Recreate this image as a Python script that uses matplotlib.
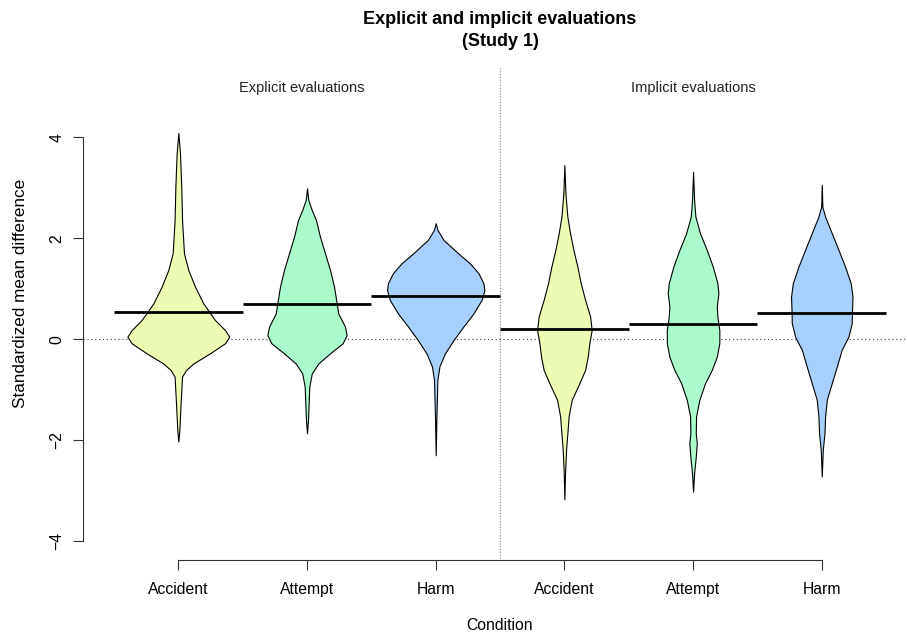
import matplotlib
matplotlib.use('Agg')
import matplotlib.pyplot as plt

plt.rcParams['font.family'] = ['Liberation Sans', 'DejaVu Sans']

conditions = ['Accident', 'Attempt', 'Harm', 'Accident', 'Attempt', 'Harm']
groups = ['Explicit evaluations', 'Implicit evaluations']
colors = ['#ECFCB2', '#ABFACB', '#A7D0FC', '#ECFCB2', '#ABFACB', '#A7D0FC']

# bean means (thick horizontal lines)
means = [0.54, 0.69, 0.854, 0.196, 0.30, 0.525]

# density profiles: value levels and bean half-widths
exp_acc_y = [4.09, 3.68, 3.02, 2.36, 1.70, 1.37, 1.04, 0.71, 0.38, 0.18, 0.05,
             -0.08, -0.28, -0.48, -0.61, -0.74, -1.27, -1.80, -2.03]
exp_acc_w = [0, .013, .023, .029, .044, .078, .130, .194, .285, .363, .396,
             .363, .246, .117, .060, .029, .018, .008, 0]

exp_att_y = [2.99, 2.76, 2.56, 2.36, 2.03, 1.70, 1.37, 1.04, 0.71, 0.51, 0.25,
             0.08, -0.08, -0.28, -0.48, -0.68, -0.94, -1.60, -1.86]
exp_att_w = [0, .010, .037, .070, .101, .140, .179, .210, .231, .243, .295,
             .308, .277, .179, .088, .037, .018, .008, 0]

exp_harm_y = [2.30, 2.17, 1.97, 1.70, 1.50, 1.31, 1.11, 0.97, 0.78, 0.51, 0.25,
              -0.02, -0.28, -0.54, -0.81, -1.60, -2.30]
exp_harm_w = [0, .013, .060, .176, .267, .332, .371, .378, .357, .293, .215,
              .138, .072, .029, .013, .005, 0]

imp_acc_y = [3.45, 2.89, 2.43, 2.10, 1.77, 1.44, 1.11, 0.78, 0.45, 0.18, -0.08,
             -0.35, -0.61, -0.87, -1.20, -1.53, -1.87, -2.19, -2.66, -3.17]
imp_acc_w = [0, .008, .023, .044, .070, .101, .127, .161, .200, .212, .194,
             .181, .161, .117, .057, .033, .023, .013, .005, 0]

imp_att_y = [3.32, 2.76, 2.43, 2.10, 1.77, 1.44, 1.11, 0.91, 0.65, 0.45, 0.18,
             -0.08, -0.35, -0.61, -0.87, -1.20, -1.53, -1.87, -2.06, -2.33,
             -2.66, -3.02]
imp_att_w = [0, .008, .018, .054, .106, .153, .189, .197, .184, .189, .204,
             .204, .184, .145, .093, .049, .023, .021, .029, .021, .008, 0]

imp_harm_y = [3.06, 2.62, 2.43, 2.10, 1.77, 1.44, 1.11, 0.84, 0.58, 0.32, 0.05,
              -0.21, -0.54, -0.87, -1.20, -1.53, -1.87, -2.19, -2.72]
imp_harm_w = [0, .005, .026, .078, .130, .181, .225, .239, .235, .233, .207,
              .155, .117, .078, .039, .026, .021, .008, 0]

beans = [(exp_acc_y, exp_acc_w), (exp_att_y, exp_att_w), (exp_harm_y, exp_harm_w),
         (imp_acc_y, imp_acc_w), (imp_att_y, imp_att_w), (imp_harm_y, imp_harm_w)]


def plot_beans():
    fig = plt.figure(figsize=(9.07, 6.36), dpi=100)
    W, H = 907.0, 636.0
    # plot region in pixels: x 82.7..917, y 118.4..560
    ax = fig.add_axes([82.7 / W, 1 - 560 / H, (917 - 82.7) / W, (560 - 118.4) / H])
    ax.set_xlim(0.257, 6.74)
    ax.set_ylim(-4.376, 4.376)

    ax.axhline(0, color='#444444', lw=0.8, ls=(0, (1, 2.5)), zorder=1)

    for i, (ys, ws) in enumerate(beans):
        pos = i + 1
        left = [pos - w for w in ws]
        right = [pos + w for w in ws]
        ax.fill_betweenx(ys, left, right, facecolor=colors[i],
                         edgecolor='black', lw=0.8, zorder=2)
        ax.plot([pos - 0.5, pos + 0.5], [means[i], means[i]],
                color='black', lw=2, solid_capstyle='butt', zorder=3)

    # divider between the two groups
    ax.plot([3.5, 3.5], [-4.33, 5.4], color='#888888', lw=0.8,
            ls=(0, (1, 1.5)), clip_on=False, zorder=1)

    ax.text(1.96, 4.98, groups[0], ha='center', va='center', fontsize=10.5,
            color='#222222')
    ax.text(5.0, 4.98, groups[1], ha='center', va='center', fontsize=10.5,
            color='#222222')

    for s in ['top', 'right']:
        ax.spines[s].set_visible(False)
    ax.spines['left'].set_bounds(-4, 4)
    ax.spines['bottom'].set_bounds(1, 6)
    for s in ['left', 'bottom']:
        ax.spines[s].set_color('#333333')
        ax.spines[s].set_linewidth(0.8)

    ax.set_xticks(range(1, 7))
    ax.set_xticklabels(conditions, fontsize=11.3)
    ax.set_yticks([-4, -2, 0, 2, 4])
    ax.set_yticklabels(['\u22124', '\u22122', '0', '2', '4'], fontsize=11.3,
                       rotation=90, va='center')
    ax.tick_params(axis='x', length=7, width=0.8, color='#333333', pad=9)
    ax.tick_params(axis='y', length=7, width=0.8, color='#333333', pad=6)

    fig.text(500 / W, 1 - 626 / H, 'Condition', ha='center', va='center',
             fontsize=11.3)
    fig.text(21 / W, 1 - 293 / H, 'Standardized mean difference', ha='center',
             va='center', rotation=90, fontsize=12.3)

    fig.text(500 / W, 1 - 20 / H, 'Explicit and implicit evaluations',
             ha='center', va='center', fontsize=13, fontweight='bold')
    fig.text(500 / W, 1 - 42 / H, '(Study 1)', ha='center', va='center',
             fontsize=13, fontweight='bold')

    fig.savefig('out.png', dpi=100)
    plt.close(fig)


if __name__ == '__main__':
    plot_beans()
